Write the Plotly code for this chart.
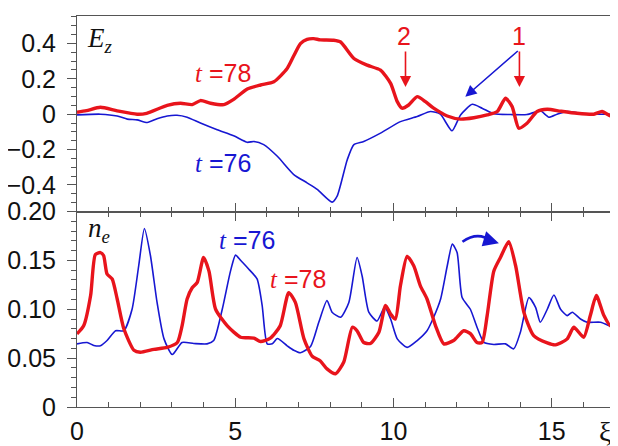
import plotly.graph_objects as go

# ---------------- data ----------------
# Upper panel: E_z
ez78_xi = [0, 0.3, 0.74, 1.27, 1.9, 2.2, 2.85, 3.27, 3.64, 3.9, 4.22, 4.64, 4.95, 5.38, 5.8,
           6.22, 6.64, 6.85, 7.06, 7.27, 7.48, 7.69, 8.11, 8.33, 8.75, 9.17, 9.59, 9.91, 10.12,
           10.27, 10.48, 10.75, 11.01, 11.27, 11.7, 12.12, 12.54, 12.96, 13.28, 13.54, 13.75,
           13.96, 14.22, 14.54, 14.86, 15.28, 15.8, 16.33, 16.59, 16.86, 17.0]
ez78 = [0.011, 0.02, 0.039, 0.019, 0.0, 0.005, 0.05, 0.062, 0.054, 0.077, 0.062, 0.054, 0.084,
        0.142, 0.165, 0.183, 0.258, 0.33, 0.399, 0.423, 0.427, 0.42, 0.418, 0.408, 0.315, 0.277,
        0.249, 0.174, 0.071, 0.034, 0.052, 0.099, 0.071, 0.034, -0.01, -0.028, -0.02, -0.004,
        0.015, 0.09, 0.043, -0.079, -0.051, 0.015, 0.028, 0.017, 0.005, 0.0, 0.015, -0.01, -0.013]

ez76_xi = [0, 0.74, 1.27, 1.59, 1.9, 2.22, 2.53, 2.85, 3.16, 3.48, 3.9, 4.43, 4.95, 5.38, 5.59,
           5.9, 6.33, 6.85, 7.27, 7.59, 8.06, 8.22, 8.54, 8.75, 9.06, 9.59, 10.22, 10.75, 11.17,
           11.48, 11.85, 12.12, 12.49, 12.8, 13.17, 13.7, 14.22, 14.64, 14.91, 15.17, 15.49,
           16.12, 16.9, 17.0]
ez76 = [-0.004, 0.0, -0.01, -0.028, -0.032, -0.047, -0.026, -0.01, -0.006, -0.017, -0.05, -0.088,
        -0.122, -0.159, -0.154, -0.172, -0.238, -0.341, -0.388, -0.425, -0.497, -0.463, -0.257,
        -0.172, -0.154, -0.107, -0.042, -0.013, 0.015, 0.0, -0.094, -0.004, 0.056, 0.034, 0.002,
        -0.002, -0.002, 0.019, -0.017, 0.0, 0.015, 0.0, 0.0, 0.0]

# Lower panel: n_e
ne78_xi = [0, 0.21, 0.43, 0.58, 0.74, 0.84, 0.95, 1.11, 1.27, 1.48, 1.8, 2.0, 2.43, 2.85, 3.17,
           3.32, 3.48, 3.64, 3.8, 4.0, 4.17, 4.38, 4.75, 5.17, 5.59, 5.8, 6.11, 6.42, 6.69, 6.9,
           7.17, 7.43, 7.69, 7.9, 8.17, 8.43, 8.7, 8.85, 9.06, 9.27, 9.54, 9.75, 9.91, 10.06,
           10.22, 10.43, 10.64, 10.85, 11.06, 11.33, 11.59, 11.9, 12.22, 12.43, 12.64, 12.8,
           12.96, 13.17, 13.38, 13.64, 13.86, 14.12, 14.43, 14.86, 15.12, 15.49, 15.7, 16.01,
           16.22, 16.41, 16.65, 16.86, 17.0]
ne78 = [0.0748, 0.083, 0.114, 0.156, 0.158, 0.155, 0.136, 0.131, 0.1105, 0.08, 0.058, 0.056,
        0.059, 0.061, 0.066, 0.083, 0.1105, 0.122, 0.1275, 0.153, 0.139, 0.100, 0.083, 0.0714,
        0.0705, 0.067, 0.0704, 0.083, 0.117, 0.107, 0.070, 0.052, 0.047, 0.039, 0.034, 0.046,
        0.0816, 0.078, 0.066, 0.065, 0.0765, 0.104, 0.095, 0.090, 0.124, 0.154, 0.1445, 0.124,
        0.1105, 0.083, 0.0646, 0.068, 0.078, 0.075, 0.066, 0.066, 0.0935, 0.139, 0.153, 0.169,
        0.1445, 0.097, 0.073, 0.0656, 0.0636, 0.0697, 0.0816, 0.0714, 0.0935, 0.114, 0.0935,
        0.083, 0.088]

ne76_xi = [0, 0.32, 0.53, 0.74, 0.95, 1.22, 1.48, 1.74, 1.95, 2.13, 2.32, 2.53, 2.75, 3.01, 3.32,
           3.69, 4.11, 4.32, 4.59, 4.85, 5.01, 5.17, 5.43, 5.69, 5.85, 6.01, 6.17, 6.33, 6.64,
           6.85, 7.06, 7.38, 7.64, 7.9, 8.06, 8.33, 8.59, 8.85, 9.01, 9.22, 9.48, 9.72, 9.91,
           10.12, 10.43, 10.75, 11.06, 11.27, 11.49, 11.7, 11.86, 12.01, 12.17, 12.43, 12.64,
           12.86, 13.17, 13.54, 13.8, 14.01, 14.28, 14.49, 14.64, 14.86, 15.07, 15.28, 15.49,
           15.65, 15.91, 16.12, 16.54, 16.86, 17.0]
ne76 = [0.0646, 0.066, 0.063, 0.0626, 0.068, 0.078, 0.078, 0.100, 0.1445, 0.1826, 0.155, 0.107,
        0.0697, 0.0537, 0.066, 0.065, 0.0646, 0.068, 0.100, 0.139, 0.1554, 0.150, 0.141, 0.131,
        0.104, 0.0646, 0.0646, 0.070, 0.0626, 0.058, 0.0555, 0.062, 0.0867, 0.109, 0.097,
        0.0918, 0.107, 0.153, 0.134, 0.097, 0.088, 0.102, 0.090, 0.0697, 0.061, 0.068, 0.078,
        0.0918, 0.1105, 0.1445, 0.1666, 0.158, 0.112, 0.100, 0.0816, 0.066, 0.064, 0.0646,
        0.0595, 0.0765, 0.112, 0.102, 0.0867, 0.100, 0.1146, 0.100, 0.0935, 0.097, 0.090,
        0.0867, 0.0867, 0.0826, 0.081]

x_ticks = [0, 5, 10, 15]
x_tick_labels = ["0", "5", "10", "15"]
ez_ticks = [-0.4, -0.2, 0, 0.2, 0.4]
ez_tick_labels = ["\u22120.4", "\u22120.2", "0", "0.2", "0.4"]
ne_ticks = [0, 0.05, 0.10, 0.15, 0.20]
ne_tick_labels = ["0", "0.05", "0.10", "0.15", "0.20"]

RED = "#e8141c"
BLUE = "#1717d2"
AX = "#555555"
SANS = "Liberation Sans, Arial, sans-serif"
SERIF = "Liberation Serif, Times New Roman, serif"

fig = go.Figure()
fig.add_trace(go.Scatter(x=ez76_xi, y=ez76, mode="lines", xaxis="x", yaxis="y",
                         line=dict(color=BLUE, width=1.6, shape="spline", smoothing=0.6),
                         showlegend=False))
fig.add_trace(go.Scatter(x=ez78_xi, y=ez78, mode="lines", xaxis="x", yaxis="y",
                         line=dict(color=RED, width=3.4, shape="spline", smoothing=0.6),
                         showlegend=False))
fig.add_trace(go.Scatter(x=ne76_xi, y=ne76, mode="lines", xaxis="x2", yaxis="y2",
                         line=dict(color=BLUE, width=1.6, shape="spline", smoothing=0.6),
                         showlegend=False))
fig.add_trace(go.Scatter(x=ne78_xi, y=ne78, mode="lines", xaxis="x2", yaxis="y2",
                         line=dict(color=RED, width=3.4, shape="spline", smoothing=0.6),
                         showlegend=False))

xcommon = dict(range=[0, 17], showgrid=False, zeroline=False, showline=True, automargin=False,
               linecolor=AX, linewidth=1, tickcolor=AX, tickvals=x_ticks,
               ticktext=x_tick_labels, ticklen=9, tickwidth=1)
minor_x = dict(dtick=1, ticklen=5, tickcolor=AX, tickwidth=1, showgrid=False)

# the page body adds an 8px margin, so the figure is 610x438 and sits at (8, 8)
fig.update_layout(
    width=610, height=438,
    margin=dict(l=69, r=3, t=8, b=39, autoexpand=False),
    paper_bgcolor="white", plot_bgcolor="white",
    xaxis=dict(**xcommon, anchor="y", ticks="inside", mirror=True,
               showticklabels=False, minor=dict(**minor_x, ticks="inside")),
    xaxis3=dict(**xcommon, anchor="y", overlaying="x", side="top", ticks="outside",
                showticklabels=False, minor=dict(**minor_x, ticks="outside")),
    xaxis2=dict(**xcommon, anchor="y2", ticks="inside", mirror="allticks",
                showticklabels=True, tickfont=dict(family=SANS, size=25, color="#111"),
                ticklabelstandoff=2, minor=dict(**minor_x, ticks="inside")),
    yaxis=dict(domain=[0.5, 1], range=[-0.55, 0.555], showgrid=False, zeroline=False,
               showline=True, linecolor=AX, linewidth=1, mirror="allticks", automargin=False,
               ticks="outside", ticklen=9, tickcolor=AX, tickvals=ez_ticks,
               ticktext=ez_tick_labels, tickfont=dict(family=SANS, size=25, color="#111"),
               ticklabelstandoff=6,
               minor=dict(dtick=0.05, ticks="outside", ticklen=5, tickcolor=AX, showgrid=False)),
    yaxis2=dict(domain=[0, 0.5], range=[0, 0.2], showgrid=False, zeroline=False,
                showline=True, linecolor=AX, linewidth=1, mirror="allticks", automargin=False,
                ticks="outside", ticklen=9, tickcolor=AX, tickvals=ne_ticks,
                ticktext=ne_tick_labels, tickfont=dict(family=SANS, size=25, color="#111"),
                ticklabelstandoff=6,
                minor=dict(dtick=0.01, ticks="outside", ticklen=5, tickcolor=AX, showgrid=False)),
)

def tlabel(num):
    return ("<span style='font-family:Liberation Serif;font-style:italic'>t</span> =" + num)

ann = []
# upper panel labels
ann.append(dict(x=0.25, y=0.42, xref="x", yref="y", xanchor="left", yanchor="middle",
                text="<i>E</i><sub><i>z</i></sub>", showarrow=False,
                font=dict(family=SERIF, size=27, color="#111")))
ann.append(dict(x=4.6, y=0.232, xref="x", yref="y", text=tlabel("78"), showarrow=False,
                font=dict(family=SANS, size=25, color=RED)))
ann.append(dict(x=4.6, y=-0.274, xref="x", yref="y", text=tlabel("76"), showarrow=False,
                font=dict(family=SANS, size=25, color=BLUE)))
ann.append(dict(x=10.32, y=0.44, xref="x", yref="y", text="2", showarrow=False,
                font=dict(family=SANS, size=25, color=RED)))
ann.append(dict(x=13.98, y=0.44, xref="x", yref="y", text="1", showarrow=False,
                font=dict(family=SANS, size=25, color=RED)))
# arrows upper
ann.append(dict(x=10.38, y=0.153, xref="x", yref="y", ax=0, ay=-37, text="",
                showarrow=True, arrowhead=2, arrowsize=1.4, arrowwidth=1.6, arrowcolor=RED))
ann.append(dict(x=13.98, y=0.153, xref="x", yref="y", ax=0, ay=-37, text="",
                showarrow=True, arrowhead=2, arrowsize=1.4, arrowwidth=1.6, arrowcolor=RED))
ann.append(dict(x=12.27, y=0.099, xref="x", yref="y", ax=54, ay=-47, text="",
                showarrow=True, arrowhead=2, arrowsize=1.4, arrowwidth=1.6, arrowcolor=BLUE))
# lower panel labels
ann.append(dict(x=0.3, y=0.181, xref="x2", yref="y2", xanchor="left", yanchor="middle",
                text="<i>n</i><sub><i>e</i></sub>", showarrow=False,
                font=dict(family=SERIF, size=27, color="#111")))
ann.append(dict(x=5.36, y=0.171, xref="x2", yref="y2", text=tlabel("76"), showarrow=False,
                font=dict(family=SANS, size=25, color=BLUE)))
ann.append(dict(x=6.97, y=0.131, xref="x2", yref="y2", text=tlabel("78"), showarrow=False,
                font=dict(family=SANS, size=25, color=RED)))
# curved arrow head (lower)
ann.append(dict(x=13.33, y=0.1675, xref="x2", yref="y2", ax=-10, ay=-3, text="",
                showarrow=True, arrowhead=2, arrowsize=1.2, arrowwidth=2.6, arrowcolor=BLUE))
# xi axis symbol
ann.append(dict(x=0.997, y=-0.062, xref="paper", yref="paper", yanchor="middle",
                text="\u03be", showarrow=False,
                font=dict(family=SERIF, size=28, color="#111")))
fig.update_layout(annotations=ann)

fig.add_shape(type="path", xref="x2", yref="y2",
              path="M 12.18,0.169 Q 12.68,0.1805 13.1,0.1693",
              line=dict(color=BLUE, width=2.6))

fig.write_html("out.html")
